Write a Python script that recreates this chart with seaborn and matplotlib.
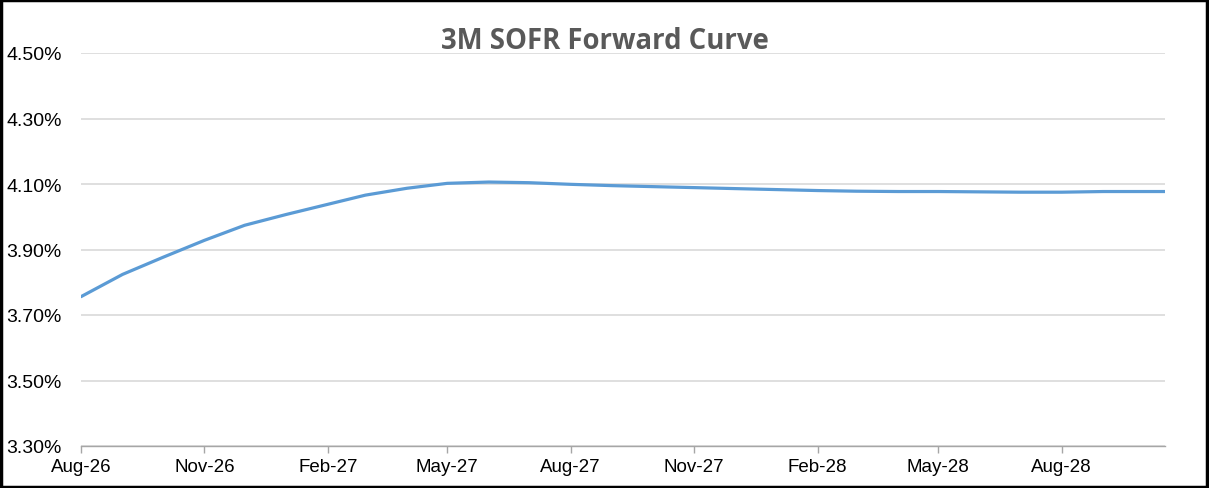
import numpy as np
import pandas as pd
import matplotlib
matplotlib.use("Agg")
import matplotlib.pyplot as plt
import matplotlib.dates as mdates
from matplotlib.ticker import FuncFormatter, FixedLocator
import seaborn as sns

# 3M SOFR forward rates (%), monthly reset dates
dates = list(pd.date_range("2026-08-01", "2028-10-01", freq="MS")) + [pd.Timestamp("2028-10-17")]
rates = [3.756, 3.824, 3.876, 3.928, 3.974, 4.007, 4.038, 4.066, 4.087, 4.102,
         4.106, 4.104, 4.099, 4.095, 4.092, 4.089, 4.086, 4.083, 4.080, 4.078,
         4.077, 4.077, 4.076, 4.075, 4.075, 4.077, 4.077, 4.077]
y_ticks = [3.30, 3.50, 3.70, 3.90, 4.10, 4.30, 4.50]
title = "3M SOFR Forward Curve"

df = pd.DataFrame({"date": dates, "rate": rates})

sns.set_theme(style="white")
plt.rcParams["font.family"] = ["Liberation Sans", "DejaVu Sans"]

fig = plt.figure(figsize=(12.09, 4.89), dpi=100)
ax = fig.add_axes([81 / 1209, 42 / 489, 1084 / 1209, 393 / 489])

sns.lineplot(data=df, x="date", y="rate", ax=ax, color="#5b9bd5", linewidth=2.3)

ax.set_ylim(y_ticks[0], y_ticks[-1])
ax.set_xlim(df["date"].iloc[0], df["date"].iloc[-1])
ax.yaxis.set_major_locator(FixedLocator(y_ticks))
ax.yaxis.set_major_formatter(FuncFormatter(lambda v, p: f"{v:.2f}%"))
ax.xaxis.set_major_locator(mdates.MonthLocator(bymonth=[2, 5, 8, 11]))
ax.xaxis.set_major_formatter(mdates.DateFormatter("%b-%y"))

ax.grid(axis="y", color="#d9d9d9", linewidth=1.2)
ax.set_axisbelow(True)
for s in ["left", "right", "top"]:
    ax.spines[s].set_visible(False)
ax.spines["bottom"].set_color("#a6a6a6")
ax.spines["bottom"].set_linewidth(1)

ax.tick_params(axis="y", length=0, pad=14, labelsize=14, labelcolor="black")
ax.tick_params(axis="x", length=5, width=1, color="#a6a6a6", direction="out",
               pad=3.5, labelsize=13.5, labelcolor="black", bottom=True)
ax.set_xlabel("")
ax.set_ylabel("")

fig.text(0.5, 1 - 42 / 489, title, ha="center", va="center",
         fontsize=19.8, fontweight="bold", color="#595959", family=["Open Sans", "DejaVu Sans"])

# black outer frame
fig.patches.append(plt.Rectangle((0.001, 0.002), 0.997, 0.995, transform=fig.transFigure,
                                 fill=False, edgecolor="black", linewidth=2.5))

fig.savefig("out.png", dpi=100)
